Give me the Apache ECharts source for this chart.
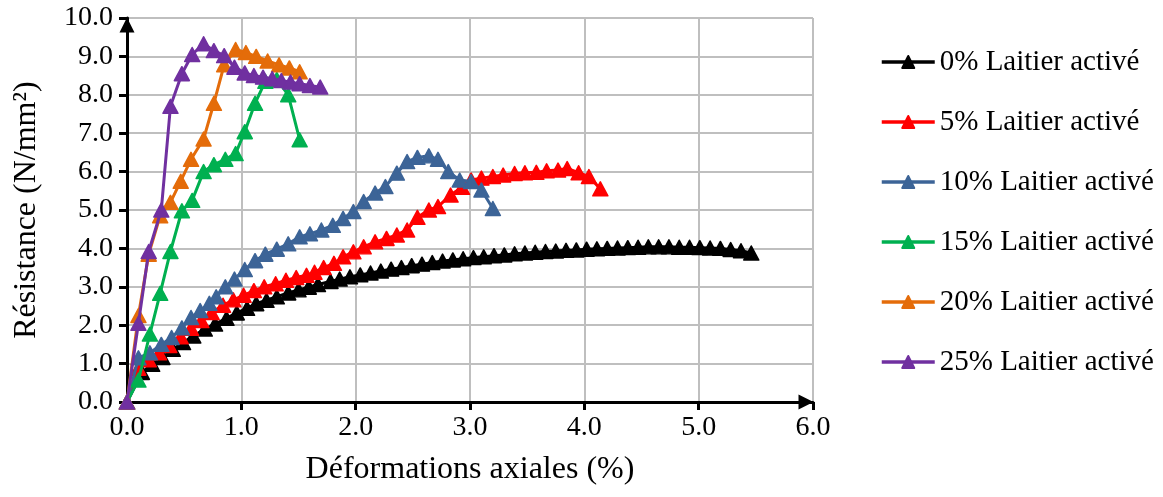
<!DOCTYPE html>
<html>
<head>
<meta charset="utf-8">
<script src="https://cdn.jsdelivr.net/npm/echarts@6/dist/echarts.min.js"></script>
<style>
  html, body { margin: 0; padding: 0; background: #ffffff; }
  #chart { width: 1163px; height: 497px; }
</style>
</head>
<body>
<div id="chart"></div>
<script>
// Axis ticks
const xTicks = [0, 1, 2, 3, 4, 5, 6];
const yTicks = [0, 1, 2, 3, 4, 5, 6, 7, 8, 9, 10];

// Series names
const seriesNames = [
  '0% Laitier activé',
  '5% Laitier activé',
  '10% Laitier activé',
  '15% Laitier activé',
  '20% Laitier activé',
  '25% Laitier activé'
];

// 0% : strain (%) and strength (N/mm²)
const strain0 = [0, 0.13, 0.22, 0.31, 0.40, 0.49, 0.58, 0.68, 0.77, 0.87, 0.96, 1.05, 1.13, 1.22, 1.31, 1.41, 1.50, 1.59, 1.67, 1.78, 1.86, 1.95, 2.04, 2.13, 2.22, 2.31, 2.40, 2.49, 2.58, 2.67, 2.76, 2.85, 2.94, 3.03, 3.12, 3.21, 3.30, 3.39, 3.48, 3.57, 3.66, 3.75, 3.84, 3.93, 4.02, 4.11, 4.20, 4.29, 4.38, 4.47, 4.56, 4.65, 4.74, 4.83, 4.92, 5.01, 5.10, 5.19, 5.28, 5.37, 5.46];
const stress0 = [0, 0.77, 0.98, 1.16, 1.37, 1.55, 1.72, 1.90, 2.03, 2.18, 2.32, 2.44, 2.56, 2.65, 2.74, 2.84, 2.92, 2.99, 3.06, 3.14, 3.20, 3.26, 3.31, 3.36, 3.41, 3.46, 3.50, 3.55, 3.59, 3.63, 3.67, 3.70, 3.73, 3.76, 3.78, 3.81, 3.83, 3.86, 3.88, 3.90, 3.92, 3.93, 3.95, 3.96, 3.98, 3.99, 4.00, 4.01, 4.02, 4.03, 4.04, 4.04, 4.04, 4.03, 4.03, 4.02, 4.01, 4.00, 3.97, 3.94, 3.88];

// 5%
const strain5 = [0, 0.10, 0.19, 0.28, 0.37, 0.47, 0.56, 0.65, 0.74, 0.84, 0.93, 1.02, 1.11, 1.20, 1.30, 1.39, 1.48, 1.57, 1.64, 1.72, 1.81, 1.89, 1.98, 2.07, 2.17, 2.27, 2.36, 2.45, 2.54, 2.64, 2.72, 2.83, 2.93, 3.01, 3.10, 3.20, 3.29, 3.39, 3.48, 3.58, 3.67, 3.77, 3.85, 3.95, 4.04, 4.14];
const stress5 = [0, 0.88, 1.10, 1.28, 1.47, 1.70, 1.92, 2.12, 2.33, 2.52, 2.66, 2.78, 2.90, 3.00, 3.08, 3.17, 3.24, 3.30, 3.38, 3.50, 3.61, 3.78, 3.91, 4.04, 4.17, 4.26, 4.35, 4.48, 4.81, 5.00, 5.09, 5.39, 5.59, 5.78, 5.83, 5.87, 5.91, 5.95, 5.97, 5.98, 6.02, 6.04, 6.08, 5.97, 5.87, 5.55];

// 10%
const strain10 = [0, 0.10, 0.20, 0.30, 0.39, 0.48, 0.56, 0.64, 0.72, 0.78, 0.86, 0.94, 1.03, 1.12, 1.21, 1.31, 1.41, 1.51, 1.60, 1.70, 1.80, 1.89, 1.98, 2.07, 2.17, 2.26, 2.36, 2.45, 2.54, 2.64, 2.72, 2.81, 2.91, 3.01, 3.10, 3.20];
const stress10 = [0, 1.15, 1.28, 1.50, 1.68, 1.93, 2.20, 2.38, 2.57, 2.74, 3.00, 3.20, 3.45, 3.68, 3.85, 3.98, 4.12, 4.30, 4.38, 4.48, 4.60, 4.78, 4.96, 5.22, 5.44, 5.61, 5.96, 6.26, 6.37, 6.41, 6.32, 6.00, 5.78, 5.74, 5.52, 5.04];

// 15%
const strain15 = [0, 0.10, 0.20, 0.29, 0.38, 0.48, 0.57, 0.67, 0.76, 0.86, 0.95, 1.03, 1.12, 1.21, 1.31, 1.41, 1.51];
const stress15 = [0, 0.57, 1.77, 2.83, 3.92, 4.98, 5.25, 6.00, 6.18, 6.32, 6.47, 7.04, 7.78, 8.35, 8.40, 8.00, 6.83];

// 20%
const strain20 = [0, 0.10, 0.19, 0.29, 0.38, 0.47, 0.56, 0.67, 0.76, 0.85, 0.95, 1.04, 1.13, 1.23, 1.33, 1.42, 1.51];
const stress20 = [0, 2.25, 3.85, 4.85, 5.20, 5.75, 6.32, 6.85, 7.78, 8.78, 9.18, 9.10, 9.00, 8.88, 8.78, 8.70, 8.60];

// 25%
const strain25 = [0, 0.10, 0.19, 0.30, 0.38, 0.48, 0.57, 0.67, 0.76, 0.85, 0.94, 1.03, 1.11, 1.19, 1.27, 1.35, 1.43, 1.51, 1.60, 1.69];
const stress25 = [0, 2.05, 3.92, 5.00, 7.70, 8.55, 9.05, 9.33, 9.15, 9.02, 8.72, 8.57, 8.50, 8.46, 8.42, 8.37, 8.33, 8.29, 8.24, 8.20];

const colors = ['#000000', '#FF0000', '#3C6497', '#00B050', '#E46C0A', '#7030A0'];

const strains = [strain0, strain5, strain10, strain15, strain20, strain25];
const stresses = [stress0, stress5, stress10, stress15, stress20, stress25];

const FONT = '"Liberation Serif", "Times New Roman", serif';

const chart = echarts.init(document.getElementById('chart'), null, { renderer: 'canvas' });

const series = seriesNames.map((name, i) => ({
  name: name,
  type: 'line',
  data: strains[i].map((x, k) => [x, stresses[i][k]]),
  symbol: 'triangle',
  symbolSize: [15, 14],
  showAllSymbol: true,
  lineStyle: { color: colors[i], width: 3 },
  itemStyle: { color: colors[i], borderColor: colors[i], borderWidth: 1.5, borderJoin: 'round' },
  emphasis: { disabled: true },
  z: 3 + i
}));

chart.setOption({
  animation: false,
  backgroundColor: '#ffffff',
  color: colors,
  grid: { left: 127, right: 350, top: 18, bottom: 95, containLabel: false },
  legend: {
    orient: 'vertical',
    left: 875,
    top: 42,
    itemWidth: 53,
    itemHeight: 15,
    itemGap: 30,
    lineStyle: { width: 3.5 },
    textStyle: { fontFamily: FONT, fontSize: 29, color: '#000000', lineHeight: 30, padding: [0, 0, 0, 0] },
    data: seriesNames
  },
  xAxis: {
    type: 'value',
    min: xTicks[0],
    max: xTicks[xTicks.length - 1],
    interval: 1,
    name: 'Déformations axiales (%)',
    nameLocation: 'middle',
    nameGap: 52,
    nameTextStyle: { fontFamily: FONT, fontSize: 32, color: '#000000' },
    axisLine: {
      show: true,
      onZero: false,
      symbol: ['none', 'triangle'],
      symbolSize: [15, 15],
      symbolOffset: [0, -7],
      lineStyle: { color: '#000000', width: 3 }
    },
    axisTick: { show: true, length: 8, lineStyle: { color: '#000000', width: 3 } },
    axisLabel: {
      fontFamily: FONT, fontSize: 28, color: '#000000', margin: 12,
      formatter: v => v.toFixed(1)
    },
    splitLine: { show: true, lineStyle: { color: '#BFBFBF', width: 2 } }
  },
  yAxis: {
    type: 'value',
    min: yTicks[0],
    max: yTicks[yTicks.length - 1],
    interval: 1,
    name: 'Résistance (N/mm²)',
    nameLocation: 'middle',
    nameGap: 84,
    nameTextStyle: { fontFamily: FONT, fontSize: 32, color: '#000000' },
    axisLine: {
      show: true,
      onZero: false,
      symbol: ['none', 'triangle'],
      symbolSize: [15, 15],
      symbolOffset: [0, -7],
      lineStyle: { color: '#000000', width: 3 }
    },
    axisTick: { show: true, length: 8, lineStyle: { color: '#000000', width: 3 } },
    axisLabel: {
      fontFamily: FONT, fontSize: 28, color: '#000000', margin: 14,
      formatter: v => v.toFixed(1)
    },
    splitLine: { show: true, lineStyle: { color: '#BFBFBF', width: 2 } }
  },
  series: series
});
</script>
</body>
</html>
